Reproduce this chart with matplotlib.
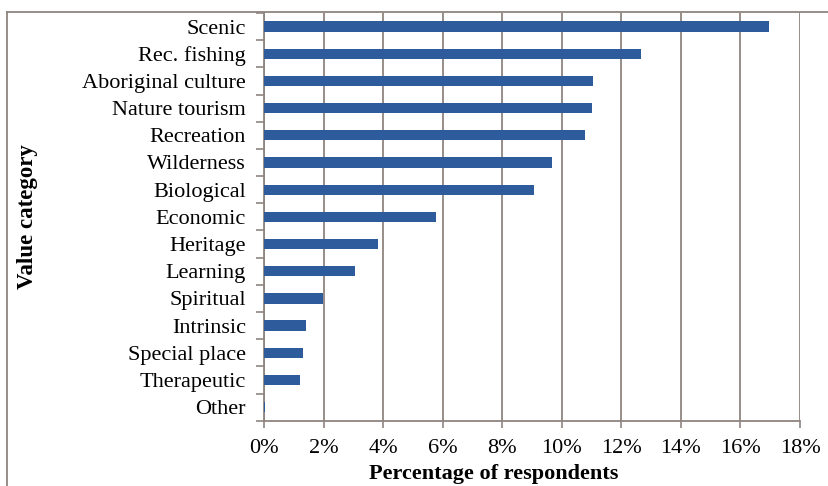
import matplotlib
matplotlib.use('Agg')
import matplotlib.pyplot as plt
from matplotlib.lines import Line2D
from matplotlib.ticker import FuncFormatter, FixedLocator
import numpy as np

# values (percent of respondents)
categories = ['Scenic', 'Rec. fishing', 'Aboriginal culture', 'Nature tourism',
              'Recreation', 'Wilderness', 'Biological', 'Economic', 'Heritage',
              'Learning', 'Spiritual', 'Intrinsic', 'Special place',
              'Therapeutic', 'Other']
percent = [16.96, 12.65, 11.06, 11.03, 10.78, 9.66, 9.07, 5.78, 3.84,
           3.06, 1.97, 1.40, 1.32, 1.21, 0.05]
xticks = [0, 2, 4, 6, 8, 10, 12, 14, 16, 18]

plt.rcParams['font.family'] = ['Liberation Serif', 'DejaVu Serif']

bar_col = '#2d5b9b'
grid_col = '#8f8580'
fs = 16

fig = plt.figure(figsize=(8.29, 4.86), dpi=100)
ax = fig.add_axes([264/829, 1-420.7/486, (800-264)/829, (420.7-13)/486])

ypos = np.arange(len(categories))
ax.barh(ypos, percent, height=0.38, color=bar_col, zorder=3)
ax.set_ylim(len(categories)-0.5, -0.5)
ax.set_xlim(0, 18)

ax.set_yticks(ypos)
ax.set_yticklabels(categories, fontsize=fs)
ax.yaxis.set_minor_locator(FixedLocator(np.arange(-0.5, len(categories), 1)))
ax.tick_params(axis='y', which='major', length=0, pad=13)
ax.tick_params(axis='y', which='minor', length=6, color=grid_col, width=1.2)

ax.set_xticks(xticks)
ax.xaxis.set_major_formatter(FuncFormatter(lambda v, p: f'{v:.0f}%'))
ax.tick_params(axis='x', labelsize=fs, length=5, color=grid_col, width=1.2, pad=8)

ax.grid(axis='x', color=grid_col, lw=1.3, zorder=0)
for s in ['top', 'right']:
    ax.spines[s].set_visible(False)
for s in ['left', 'bottom']:
    ax.spines[s].set_color(grid_col)
    ax.spines[s].set_linewidth(1.3)

ax.set_xlabel('Percentage of respondents', fontsize=fs, fontweight='bold')
ax.xaxis.set_label_coords((494-264)/536, (420.7-464)/407.7)
ax.set_ylabel('Value category', fontsize=16.5, fontweight='bold')
ax.yaxis.set_label_coords(-(264-38)/536, 0.5)

# outer chart frame (only top and left edges visible)
fig.add_artist(Line2D([7/829, 1], [1-12/486, 1-12/486], color=grid_col, lw=1.3))
fig.add_artist(Line2D([7/829, 7/829], [1-12/486, 0], color=grid_col, lw=1.3))

fig.savefig('out.png', dpi=100)
